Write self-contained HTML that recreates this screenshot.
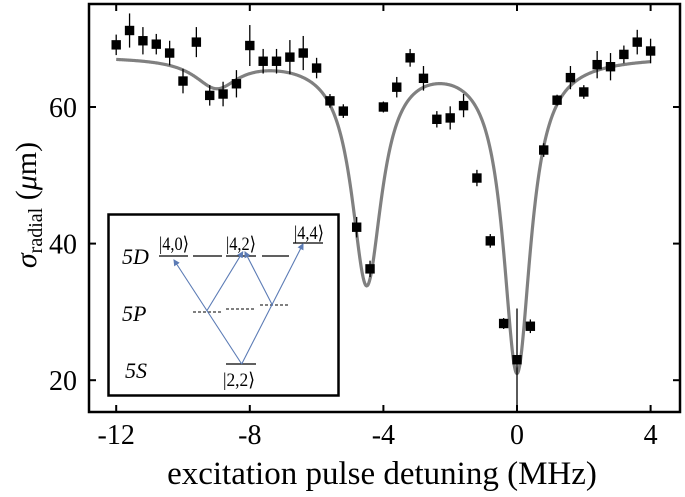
<!DOCTYPE html>
<html><head><meta charset="utf-8"><style>
html,body{margin:0;padding:0;background:#fff;}
svg{display:block;font-family:"Liberation Serif","DejaVu Serif",serif;}
</style></head><body>
<svg id="chart" width="685" height="497" viewBox="0 0 685 497" xmlns="http://www.w3.org/2000/svg">
<g id="fit"></g>
<g id="pts"></g>
<rect x="89" y="4" width="591" height="408" fill="none" stroke="#000" stroke-width="2.5"/>
<g id="axes"></g>
<text x="382" y="484" font-size="33" text-anchor="middle">excitation pulse detuning (MHz)</text>
<text transform="translate(36,205) rotate(-90)" font-size="30" text-anchor="middle"><tspan font-style="italic">σ</tspan><tspan font-size="20" dy="6">radial</tspan><tspan dy="-6"> (</tspan><tspan font-style="italic">μ</tspan><tspan>m)</tspan></text>
<g>
<rect x="108.5" y="214.5" width="230" height="181" fill="#fff" stroke="#000" stroke-width="2.5"/>
<g font-style="italic" font-size="22">
<text x="122" y="264">5D</text>
<text x="122" y="321">5P</text>
<text x="125" y="378">5S</text>
</g>
<g stroke="#000" stroke-width="1.3">
<line x1="159" y1="256" x2="188" y2="256"/><line x1="193" y1="256" x2="222" y2="256"/>
<line x1="226" y1="256" x2="256" y2="256"/><line x1="262" y1="256" x2="289" y2="256"/>
<line x1="293" y1="243" x2="323" y2="243"/><line x1="226" y1="364" x2="256" y2="364"/>
</g>
<g stroke="#000" stroke-width="1" stroke-dasharray="3,2">
<line x1="193" y1="312" x2="222" y2="312"/><line x1="226" y1="309" x2="255" y2="309"/><line x1="260" y1="305" x2="289" y2="305"/>
</g>
<g font-size="19">
<text x="159" y="250" textLength="30" lengthAdjust="spacingAndGlyphs">|4,0⟩</text>
<text x="226" y="250" textLength="30" lengthAdjust="spacingAndGlyphs">|4,2⟩</text>
<text x="294" y="239" textLength="30" lengthAdjust="spacingAndGlyphs">|4,4⟩</text>
<text x="223" y="386" textLength="32" lengthAdjust="spacingAndGlyphs">|2,2⟩</text>
</g>
<defs><marker id="ah" markerWidth="6" markerHeight="6" refX="5" refY="3" orient="auto"><path d="M0,0 L6,3 L0,6 z" fill="#5b7bb5"/></marker></defs>
<g stroke="#5b7bb5" stroke-width="1.1" marker-end="url(#ah)">
<line x1="241.7" y1="364" x2="174" y2="260"/>
<line x1="241.7" y1="364" x2="303" y2="244"/>
<line x1="206.7" y1="311" x2="242.7" y2="252"/>
<line x1="272.7" y1="305.7" x2="245" y2="252"/>
</g>
</g>
</svg>
<script>
const detuning = [-12,-11.6,-11.2,-10.8,-10.4,-10,-9.6,-9.2,-8.8,-8.4,-8,-7.6,-7.2,-6.8,-6.4,-6,-5.6,-5.2,-4.8,-4.4,-4,-3.6,-3.2,-2.8,-2.4,-2,-1.6,-1.2,-0.8,-0.4,0,0.4,0.8,1.2,1.6,2,2.4,2.8,3.2,3.6,4];
const sigma = [69.1,71.2,69.7,69.2,67.9,63.8,69.5,61.7,61.9,63.4,69.0,66.7,66.7,67.3,67.9,65.7,60.9,59.4,42.4,36.3,60.0,62.9,67.2,64.2,58.2,58.4,60.2,49.6,40.4,28.3,23.0,27.9,53.7,61.0,64.3,62.2,66.2,65.9,67.7,69.5,68.2];
const sigmaErr = [1.5,2.5,2,1.5,1.8,1.8,2.2,1.5,1.8,2,3,1.8,1.8,2.5,2.5,1.5,1,1,1.5,1.2,0.8,1.5,1.3,1.8,1.2,1.7,1.7,1.2,1,0.8,7.5,1,1,0.8,1.7,1,2,2,1.3,1.8,1.8];
const fitBaseline = [67.5];
const fitCenters = [-9, -4.5, 0];
const fitDepths = [4.2, 33, 46];
const fitWidths = [0.8, 0.55, 0.5];
const xTicks = [-12,-8,-4,0,4];
const yTicks = [20,40,60];

const NS="http://www.w3.org/2000/svg";
const xs = v => 517 + v*33.4;
const ys = v => 107 - (v-60)*6.83;
function mk(tag, attrs, parent){const e=document.createElementNS(NS,tag);for(const k in attrs)e.setAttribute(k,attrs[k]);parent.appendChild(e);return e;}

const fitG=document.getElementById('fit');
let d='';
for(let x=-12;x<=4.0001;x+=0.02){
  let y=fitBaseline[0];
  for(let i=0;i<fitCenters.length;i++){const u=(x-fitCenters[i])/fitWidths[i];y-=fitDepths[i]/(1+u*u);}
  d+=(d?'L':'M')+xs(x).toFixed(2)+','+ys(y).toFixed(2);
}
const fp=mk('path',{d:d,fill:'none',stroke:'#808080','stroke-width':3.2},fitG);



const pg=document.getElementById('pts');
detuning.forEach((x,i)=>{
  const cx=xs(x), cy=ys(sigma[i]);
  const eb=mk('line',{x1:cx,x2:cx,y1:ys(sigma[i]+sigmaErr[i]),y2:ys(sigma[i]-sigmaErr[i]),stroke:'#000','stroke-width':1.3},pg);
  
  
  const r=mk('rect',{x:cx-4.7,y:cy-4.7,width:9.4,height:9.4,fill:'#000'},pg);
  
  
});

const ag=document.getElementById('axes');
xTicks.forEach(t=>{
  const x=xs(t);
  mk('line',{x1:x,x2:x,y1:412,y2:405,stroke:'#000','stroke-width':2},ag);
  mk('line',{x1:x,x2:x,y1:4,y2:11,stroke:'#000','stroke-width':2},ag);
  const tx=mk('text',{x:x,y:444,'font-size':28,'text-anchor':'middle'},ag);
  tx.textContent=(t<0?'-'+Math.abs(t):t);
  
  
});
yTicks.forEach(t=>{
  const y=ys(t);
  mk('line',{x1:89,x2:96,y1:y,y2:y,stroke:'#000','stroke-width':2},ag);
  mk('line',{x1:680,x2:673,y1:y,y2:y,stroke:'#000','stroke-width':2},ag);
  const tx=mk('text',{x:77,y:y+10,'font-size':28,'text-anchor':'end'},ag);
  tx.textContent=t;
  
  
});
</script>
</body></html>
